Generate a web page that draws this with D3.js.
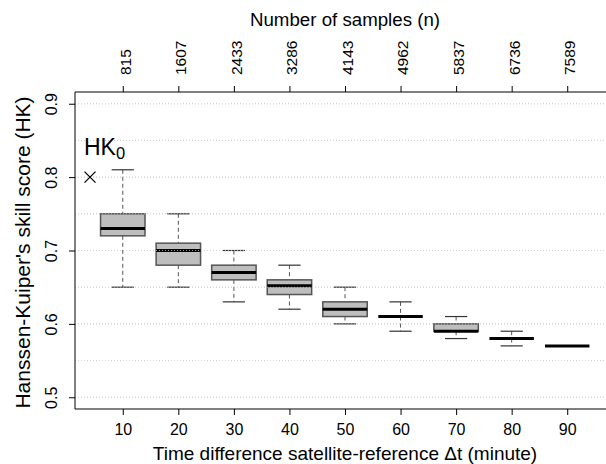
<!DOCTYPE html>
<html>
<head>
<meta charset="utf-8">
<script src="https://cdn.jsdelivr.net/npm/d3@7"></script>
<style>
  body { margin: 0; background: #fff; }
  text { font-family: "Liberation Sans", Arial, sans-serif; fill: #000; }
</style>
</head>
<body>
<div id="chart"></div>
<script>
const width = 606;
const height = 464;

// time difference categories (minute)
const minutes = [10, 20, 30, 40, 50, 60, 70, 80, 90];
// number of samples per category
const samples = [815, 1607, 2433, 3286, 4143, 4962, 5837, 6736, 7589];
// box statistics
const whiskerLow  = [0.65, 0.65, 0.63, 0.62, 0.60, 0.59, 0.58, 0.57, 0.57];
const q1          = [0.72, 0.68, 0.66, 0.64, 0.61, 0.61, 0.59, 0.58, 0.57];
const median      = [0.73, 0.70, 0.67, 0.652, 0.62, 0.61, 0.59, 0.58, 0.57];
const q3          = [0.75, 0.71, 0.68, 0.66, 0.63, 0.61, 0.60, 0.58, 0.57];
const whiskerHigh = [0.81, 0.75, 0.70, 0.68, 0.65, 0.63, 0.61, 0.59, 0.57];

const hk0Value = 0.8;
const hk0Pos = 0.41;

const yTicks = [0.5, 0.6, 0.7, 0.8, 0.9];
const gridValues = [0.5, 0.55, 0.6, 0.65, 0.7, 0.75, 0.8, 0.85, 0.9];

const margin = { left: 75, top: 92, bottom: 409 };
const tickFont = 16;

const x = d3.scaleLinear().domain([0.14, 9.86]).range([margin.left, 615]);
const y = d3.scaleLinear().domain([0.484, 0.916]).range([margin.bottom, margin.top]);

const boxes = minutes.map((m, i) => ({
    pos: i + 1,
    minute: m,
    n: samples[i],
    lo: whiskerLow[i], q1: q1[i], med: median[i], q3: q3[i], hi: whiskerHigh[i]
}));

const svg = d3.select("#chart").append("svg")
    .attr("width", width)
    .attr("height", height);

// grid
svg.append("g").selectAll("line")
    .data(gridValues)
    .enter().append("line")
    .attr("x1", margin.left).attr("x2", width)
    .attr("y1", d => y(d)).attr("y2", d => y(d))
    .attr("stroke", "#c8c8c8")
    .attr("stroke-width", 1)
    .attr("stroke-dasharray", "1,2");

const halfBox = (x(2) - x(1)) * 0.4;
const halfCap = halfBox * 0.5;

const g = svg.append("g").selectAll("g")
    .data(boxes)
    .enter().append("g");

// whiskers
g.filter(d => d.hi > d.q3).append("line")
    .attr("x1", d => x(d.pos)).attr("x2", d => x(d.pos))
    .attr("y1", d => y(d.hi)).attr("y2", d => y(d.q3))
    .attr("stroke", "#555").attr("stroke-dasharray", "4,3");
g.filter(d => d.lo < d.q1).append("line")
    .attr("x1", d => x(d.pos)).attr("x2", d => x(d.pos))
    .attr("y1", d => y(d.q1)).attr("y2", d => y(d.lo))
    .attr("stroke", "#555").attr("stroke-dasharray", "4,3");

// caps
g.filter(d => d.hi > d.q3).append("line")
    .attr("x1", d => x(d.pos) - halfCap).attr("x2", d => x(d.pos) + halfCap)
    .attr("y1", d => y(d.hi)).attr("y2", d => y(d.hi))
    .attr("stroke", "#333").attr("stroke-width", 1.2);
g.filter(d => d.lo < d.q1).append("line")
    .attr("x1", d => x(d.pos) - halfCap).attr("x2", d => x(d.pos) + halfCap)
    .attr("y1", d => y(d.lo)).attr("y2", d => y(d.lo))
    .attr("stroke", "#333").attr("stroke-width", 1.2);

// boxes
g.filter(d => d.q3 > d.q1).append("rect")
    .attr("x", d => x(d.pos) - halfBox)
    .attr("width", halfBox * 2)
    .attr("y", d => y(d.q3))
    .attr("height", d => y(d.q1) - y(d.q3))
    .attr("fill", "#bebebe")
    .attr("stroke", "#555")
    .attr("stroke-width", 1.5);

// medians
g.append("line")
    .attr("x1", d => x(d.pos) - halfBox).attr("x2", d => x(d.pos) + halfBox)
    .attr("y1", d => y(d.med)).attr("y2", d => y(d.med))
    .attr("stroke", "#000").attr("stroke-width", 3);

// gridlines show through where they meet box edges
svg.append("g").selectAll("line")
    .data(gridValues)
    .enter().append("line")
    .attr("x1", margin.left).attr("x2", width)
    .attr("y1", d => y(d)).attr("y2", d => y(d))
    .attr("stroke", "#d8d8d8")
    .attr("stroke-width", 1)
    .attr("stroke-dasharray", "1,2")
    .attr("opacity", 0.7);

// frame (left, top, bottom)
svg.append("path")
    .attr("d", `M${width},${margin.top}H${margin.left}V${margin.bottom}H${width}`)
    .attr("fill", "none")
    .attr("stroke", "#000")
    .attr("stroke-width", 1);

// bottom axis
const xBottom = d3.axisBottom(x)
    .tickValues(boxes.map(d => d.pos))
    .tickFormat((d, i) => minutes[i])
    .tickSize(6).tickPadding(9);
const gb = svg.append("g")
    .attr("transform", `translate(0,${margin.bottom})`)
    .call(xBottom);
gb.select(".domain").remove();
gb.selectAll("text").attr("font-size", tickFont).style("font-family", "Liberation Sans, Arial, sans-serif");

// top axis
const xTop = d3.axisTop(x)
    .tickValues(boxes.map(d => d.pos))
    .tickFormat((d, i) => samples[i])
    .tickSize(6);
const gt = svg.append("g")
    .attr("transform", `translate(0,${margin.top})`)
    .call(xTop);
gt.select(".domain").remove();
gt.selectAll("text")
    .attr("font-size", 15.5)
    .style("font-family", "Liberation Sans, Arial, sans-serif")
    .attr("text-anchor", "start")
    .attr("dy", "0.35em")
    .attr("x", 0).attr("y", 0)
    .attr("transform", "translate(2,-17) rotate(-90)");

// left axis
const yAxis = d3.axisLeft(y)
    .tickValues(yTicks)
    .tickFormat(d3.format(".1f"))
    .tickSize(6);
const gl = svg.append("g")
    .attr("transform", `translate(${margin.left},0)`)
    .call(yAxis);
gl.select(".domain").remove();
gl.selectAll("text")
    .attr("font-size", tickFont)
    .style("font-family", "Liberation Sans, Arial, sans-serif")
    .attr("text-anchor", "middle")
    .attr("x", 0).attr("dy", 0)
    .attr("transform", "translate(-18,0) rotate(-90)");

// titles
svg.append("text")
    .attr("x", x(5)).attr("y", 460)
    .attr("text-anchor", "middle")
    .attr("font-size", 19)
    .text("Time difference satellite-reference \u0394t (minute)");

svg.append("text")
    .attr("x", x(5)).attr("y", 26)
    .attr("text-anchor", "middle")
    .attr("font-size", 18.7)
    .text("Number of samples (n)");

svg.append("text")
    .attr("transform", `translate(30,${(margin.top + margin.bottom) / 2 + 2}) rotate(-90)`)
    .attr("text-anchor", "middle")
    .attr("font-size", 21)
    .text("Hanssen-Kuiper's skill score (HK)");

// HK0 marker
const cx = x(hk0Pos), cy = y(hk0Value), r = 5.5;
svg.append("path")
    .attr("d", `M${cx - r},${cy - r}L${cx + r},${cy + r}M${cx - r},${cy + r}L${cx + r},${cy - r}`)
    .attr("stroke", "#000")
    .attr("stroke-width", 1.3)
    .attr("fill", "none");

const hk = svg.append("text")
    .attr("x", 84).attr("y", 155)
    .attr("font-size", 23);
hk.append("tspan").text("HK");
hk.append("tspan").attr("font-size", 16.5).attr("dy", 4).text("0");
</script>
</body>
</html>
